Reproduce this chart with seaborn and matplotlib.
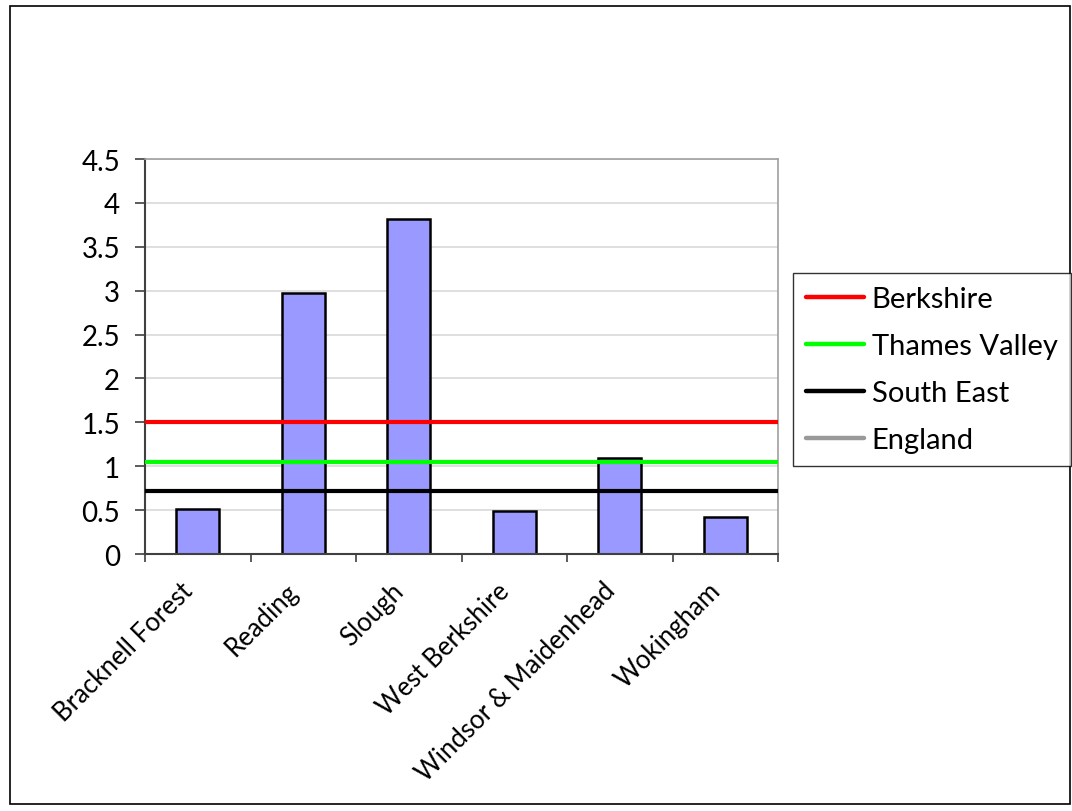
import numpy as np
import pandas as pd
import matplotlib
matplotlib.use("Agg")
import matplotlib.pyplot as plt
from matplotlib.lines import Line2D
from matplotlib.patches import Rectangle
import seaborn as sns

# data
areas = ["Bracknell Forest", "Reading", "Slough", "West Berkshire",
         "Windsor & Maidenhead", "Wokingham"]
values = [0.51, 2.97, 3.82, 0.49, 1.09, 0.42]
ref_names = ["Berkshire", "Thames Valley", "South East", "England"]
ref_values = [1.50, 1.05, 0.72, np.nan]  # England not drawn in the chart
ref_colors = ["#ff0000", "#00ff00", "#000000", "#999999"]
y_ticks = [0, 0.5, 1, 1.5, 2, 2.5, 3, 3.5, 4, 4.5]

df = pd.DataFrame({"area": areas, "value": values})

sns.set_style("white")
plt.rcParams["font.family"] = ["Lato", "DejaVu Sans"]
plt.rcParams["text.color"] = "black"
plt.rcParams["xtick.color"] = "black"
plt.rcParams["ytick.color"] = "black"

fig = plt.figure(figsize=(10.72, 8.12), dpi=100)
W, H = 1072, 812
ax = fig.add_axes([145 / W, 1 - 555 / H, (778 - 145) / W, (555 - 160) / H])

sns.barplot(data=df, x="area", y="value", color="#9999ff", saturation=1,
            width=0.41, edgecolor="black", linewidth=1.8, ax=ax, zorder=2)

for name, val, col in zip(ref_names, ref_values, ref_colors):
    if not np.isnan(val):
        ax.axhline(val, color=col, lw=3, zorder=3)

ax.set_xlim(-0.5, len(areas) - 0.5)
ax.set_ylim(0, 4.5)
ax.set_yticks(y_ticks)
ax.set_yticklabels([f"{t:g}" for t in y_ticks], fontsize=20)
ax.yaxis.grid(True, color="#d9d9d9", lw=1.2, zorder=0)
ax.set_axisbelow(True)

# category ticks sit between the bars
ax.set_xticks(np.arange(-0.5, len(areas), 1.0), minor=False)
ax.set_xticklabels([])
ax.set_xticks(np.arange(len(areas)), minor=True)
ax.set_xticklabels(areas, minor=True, rotation=45, ha="right", va="top",
                   rotation_mode="default", fontsize=18.5)
ax.tick_params(axis="x", which="minor", length=0, pad=17)
ax.tick_params(axis="x", which="major", direction="out", length=6,
               color="#404040", width=1.2, bottom=True)
ax.tick_params(axis="y", direction="out", length=7, color="#404040",
               width=1.2, left=True, pad=11)
ax.set_xlabel("")
ax.set_ylabel("")

for s in ["left", "bottom"]:
    ax.spines[s].set_color("#404040")
    ax.spines[s].set_linewidth(1.5)
for s in ["top", "right"]:
    ax.spines[s].set_color("#a0a0a0")
    ax.spines[s].set_linewidth(1.2)

handles = [Line2D([0], [0], color=c, lw=3.2) for c in ref_colors]
leg = fig.legend(handles, ref_names, loc="upper left",
                 bbox_to_anchor=(793 / W, 1 - 274 / H), fontsize=21,
                 frameon=True, fancybox=False, edgecolor="black",
                 handlelength=2.0, handletextpad=0.25, labelspacing=0.72,
                 borderpad=0.45, borderaxespad=0)
leg.get_frame().set_linewidth(1.0)

fig.patches.append(Rectangle((10 / W, 1 - 805 / H), 1060 / W, 798 / H,
                             transform=fig.transFigure, fill=False,
                             edgecolor="black", lw=1.2))

fig.savefig("out.png", dpi=100)
